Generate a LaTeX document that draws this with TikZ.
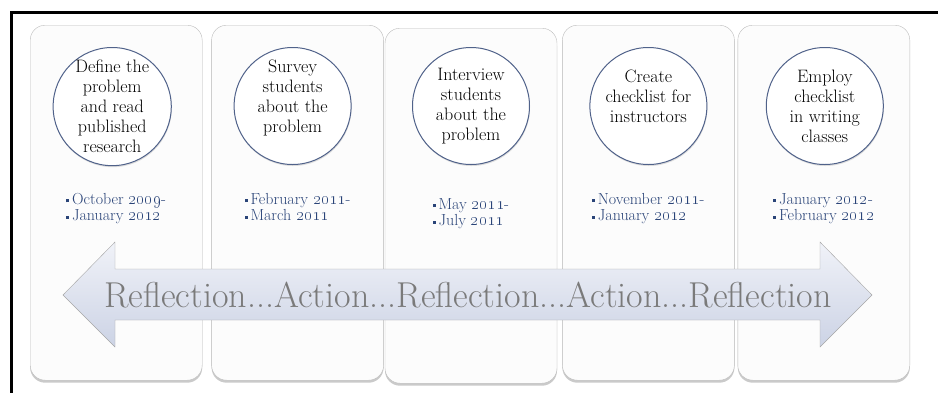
\documentclass[tikz,border=0pt]{standalone}
\usepackage{tikz}
\usetikzlibrary{positioning,shadows}

\definecolor{datblue}{RGB}{42,68,120}
\definecolor{ringblue}{RGB}{80,98,138}
\definecolor{panelgray}{RGB}{188,188,188}
\definecolor{arrowtop}{RGB}{240,242,248}
\definecolor{arrowbot}{RGB}{204,211,229}
\definecolor{wordgray}{RGB}{122,122,122}

\newcommand{\sqbul}{\raisebox{0.3ex}{\rule{3pt}{3pt}}\,}

\begin{document}
\begin{tikzpicture}[x=1pt,y=-1pt,
    panel/.style={draw=panelgray,fill=black!1,rounded corners=15pt,minimum width=172pt,
      minimum height=355pt,inner sep=0pt,
      drop shadow={shadow xshift=0pt,shadow yshift=-2.5pt,opacity=0.35,fill=black!60}},
    ring/.style={circle,draw=ringblue,fill=white,line width=1pt,minimum size=117pt,inner sep=0pt,
      align=center,font=\fontsize{18}{20}\selectfont,
      drop shadow={shadow xshift=0.5pt,shadow yshift=-1.5pt,opacity=0.25}},
    when/.style={align=left,text=datblue,font=\fontsize{16}{16.5}\selectfont,inner sep=0pt}]
  \useasboundingbox (0,0) rectangle (938,392);

  % frame
  \draw[line width=2.5pt] (11.5,400) -- (11.5,12.5) -- (950,12.5);

  % panels
  \node[panel,anchor=north west] (p1) at (30,25) {};
  \node[panel,right=9pt of p1] (p2) {};
  \node[panel,right=1pt of p2,yshift=-3pt] (p3) {};
  \node[panel,right=5pt of p3,yshift=3pt] (p4) {};
  \node[panel,right=3pt of p4] (p5) {};

  % steps
  \node[ring,below=22pt of p1.north,xshift=-4pt] (c1) {Define the\\problem\\and read\\published\\research};
  \node[ring,below=22pt of p2.north,xshift=-5pt] (c2) {Survey\\students\\about the\\problem\\\mbox{}};
  \node[ring,below=19pt of p3.north] (c3) {Interview\\students\\about the\\problem};
  \node[ring,below=22pt of p4.north] (c4) {Create\\checklist for\\instructors\\\mbox{}};
  \node[ring,below=22pt of p5.north,xshift=1pt] (c5) {Employ\\checklist\\in writing\\classes};

  % dates
  \node[when,below=168pt of p1.north] (d1) {\sqbul October \oldstylenums{2009}-\\\sqbul January \oldstylenums{2012}};
  \node[when,below=168pt of p2.north] (d2) {\sqbul February \oldstylenums{2011}-\\\sqbul March \oldstylenums{2011}};
  \node[when,below=170pt of p3.north] (d3) {\sqbul May \oldstylenums{2011}-\\\sqbul July \oldstylenums{2011}};
  \node[when,below=168pt of p4.north] (d4) {\sqbul November \oldstylenums{2011}-\\\sqbul January \oldstylenums{2012}};
  \node[when,below=168pt of p5.north] (d5) {\sqbul January \oldstylenums{2012}-\\\sqbul February \oldstylenums{2012}};

  % double arrow
  \path[draw=black!35,top color=arrowtop,bottom color=arrowbot]
    (63,295) -- (115,242) -- (115,269) -- (820,269) -- (820,242) -- (872,295)
    -- (820,347) -- (820,320) -- (115,320) -- (115,347) -- cycle;
  \node[text=wordgray,font=\fontsize{36}{36}\selectfont] (words) at (468,295)
    {Reflection...Action...Reflection...Action...Reflection};
\end{tikzpicture}
\end{document}
